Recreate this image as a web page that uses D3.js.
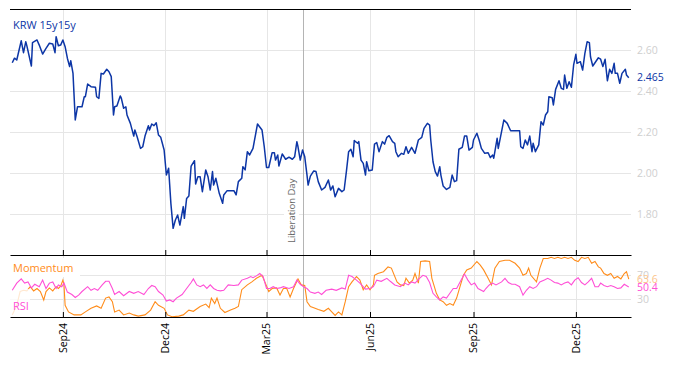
<!DOCTYPE html>
<html>
<head>
<meta charset="utf-8">
<script src="https://cdn.jsdelivr.net/npm/d3@7"></script>
<style>
  body { margin: 0; background: #fff; }
  text { font-family: 'Open Sans', sans-serif; }
</style>
</head>
<body>
<svg id="chart" width="674" height="366"></svg>
<script>
// day offsets are counted from 1 Sep 2024
const baseDate = new Date(2024, 8, 1);

const krw = [
  [-45, 2.538], [-43, 2.56], [-41, 2.551], [-37, 2.645], [-35, 2.587], [-33, 2.64], [-32, 2.62],
  [-28, 2.522], [-27, 2.636], [-23, 2.649], [-21, 2.624], [-18, 2.58], [-15, 2.608], [-12, 2.633],
  [-9, 2.629], [-7, 2.587], [-6, 2.665], [-4, 2.621], [-2, 2.624], [0, 2.649], [2, 2.616],
  [4, 2.56], [6, 2.519], [7, 2.548], [9, 2.486], [11, 2.259], [13, 2.323], [17, 2.323],
  [19, 2.372], [20, 2.372], [22, 2.434], [25, 2.421], [29, 2.418], [30, 2.372], [32, 2.364],
  [34, 2.486], [36, 2.483], [39, 2.506], [41, 2.494], [43, 2.47], [45, 2.283], [46, 2.323],
  [48, 2.327], [51, 2.376], [52, 2.364], [54, 2.316], [56, 2.323], [57, 2.283], [60, 2.242],
  [63, 2.18], [64, 2.21], [66, 2.177], [69, 2.12], [71, 2.128], [73, 2.18], [76, 2.231],
  [77, 2.21], [79, 2.239], [81, 2.231], [83, 2.245], [85, 2.185], [87, 2.174], [90, 2.112],
  [92, 1.99], [94, 2.023], [96, 1.852], [98, 1.73], [100, 1.771], [102, 1.795], [104, 1.746],
  [107, 1.836], [108, 1.779], [110, 1.876], [112, 1.888], [114, 2.034], [117, 2.06], [118, 1.946],
  [120, 1.982], [122, 1.982], [124, 1.909], [127, 2.015], [129, 1.982], [131, 1.917], [133, 2.007],
  [134, 1.941], [136, 1.974], [139, 1.901], [142, 1.852], [143, 1.893], [146, 1.914], [152, 1.914],
  [154, 1.893], [156, 1.958], [159, 1.974], [160, 2.031], [162, 2.015], [164, 2.104], [166, 2.088],
  [169, 2.12], [173, 2.239], [177, 2.21], [179, 2.128], [181, 2.027], [183, 2.027], [186, 2.099],
  [188, 2.099], [189, 2.063], [191, 2.088], [192, 2.034], [195, 2.093], [198, 2.067], [201, 2.077],
  [204, 2.067], [206, 2.079], [208, 2.153], [209, 2.128], [211, 2.063], [213, 2.112], [215, 2.079],
  [217, 1.99], [218, 1.941], [220, 1.985], [223, 2.01], [225, 2.007], [227, 1.958], [230, 1.917],
  [233, 1.93], [236, 1.966], [238, 1.917], [240, 1.937], [242, 1.884], [245, 1.925], [248, 1.909],
  [250, 1.917], [252, 2.007], [254, 2.104], [256, 2.116], [258, 2.079], [259, 2.158], [262, 2.145],
  [263, 2.153], [265, 2.063], [267, 2.047], [269, 1.99], [270, 2.055], [272, 2.011], [275, 2.015],
  [277, 2.141], [279, 2.148], [281, 2.104], [284, 2.153], [286, 2.141], [288, 2.174], [290, 2.182],
  [293, 2.153], [295, 2.145], [296, 2.104], [298, 2.079], [301, 2.096], [303, 2.091], [305, 2.128],
  [307, 2.096], [310, 2.125], [313, 2.096], [316, 2.161], [319, 2.174], [321, 2.218], [324, 2.242],
  [326, 2.234], [327, 2.161], [329, 2.055], [331, 2.007], [333, 1.985], [335, 2.031], [336, 1.99],
  [338, 1.937], [341, 1.92], [344, 1.93], [346, 1.99], [348, 1.958], [350, 1.963], [352, 2.116],
  [355, 2.125], [357, 2.18], [359, 2.18], [361, 2.112], [364, 2.125], [365, 2.161], [368, 2.194],
  [370, 2.161], [372, 2.12], [375, 2.096], [378, 2.099], [380, 2.075], [382, 2.088], [383, 2.072],
  [386, 2.169], [387, 2.12], [392, 2.259], [395, 2.242], [398, 2.206], [406, 2.206], [407, 2.128],
  [409, 2.12], [411, 2.161], [413, 2.137], [415, 2.18], [417, 2.104], [418, 2.145], [420, 2.104],
  [423, 2.137], [425, 2.25], [427, 2.234], [429, 2.283], [431, 2.299], [432, 2.372], [435, 2.367],
  [436, 2.332], [438, 2.408], [441, 2.45], [443, 2.413], [445, 2.408], [446, 2.478], [448, 2.413],
  [450, 2.445], [452, 2.418], [454, 2.527], [456, 2.579], [457, 2.535], [460, 2.543], [462, 2.502],
  [464, 2.584], [466, 2.64], [468, 2.636], [469, 2.567], [471, 2.522], [473, 2.538], [476, 2.562],
  [478, 2.555], [480, 2.519], [482, 2.555], [484, 2.45], [486, 2.506], [488, 2.486], [490, 2.535],
  [491, 2.486], [493, 2.486], [495, 2.438], [497, 2.486], [500, 2.506], [501, 2.478], [503, 2.465]
];

const momentum = [
  [-45, 4], [-41, 20], [-38, 43], [-35, 45], [-32, 44], [-29, 51], [-26, 44], [-23, 48], [-20, 43],
  [-17, 29], [-15, 43], [-12, 49], [-9, 44], [-6, 51], [-4, 48], [-2, 52], [0, 62], [1, 54], [2, 20],
  [5, 9], [10, 4], [16, 4], [20, 9], [25, 15], [30, 19], [34, 15], [38, 32], [41, 34], [44, 26],
  [46, 9], [50, 12], [54, 4], [59, 7], [63, 4], [67, 2], [73, 4], [78, 12], [82, 26], [85, 20],
  [90, 15], [93, 4], [97, 1], [103, 2], [107, 4], [112, 12], [116, 10], [122, 18], [127, 22],
  [130, 16], [132, 32], [135, 23], [137, 32], [140, 15], [144, 8], [149, 12], [153, 15], [156, 18],
  [159, 46], [164, 54], [168, 59], [172, 65], [177, 70], [180, 57], [183, 43], [186, 48], [190, 49],
  [193, 37], [196, 48], [199, 48], [202, 34], [205, 48], [209, 64], [212, 54], [215, 53], [217, 26],
  [220, 18], [223, 16], [227, 13], [232, 10], [236, 15], [239, 9], [242, 3], [245, 9], [248, 4],
  [251, 26], [254, 51], [257, 59], [261, 68], [264, 62], [267, 46], [270, 54], [273, 46], [276, 54],
  [277, 70], [280, 73], [285, 76], [289, 84], [292, 82], [297, 59], [300, 54], [303, 53], [305, 65],
  [308, 57], [311, 62], [313, 73], [316, 57], [318, 93], [322, 94], [326, 93], [328, 65], [332, 40],
  [335, 29], [338, 26], [341, 20], [344, 23], [347, 20], [350, 32], [353, 51], [356, 70], [359, 79],
  [363, 82], [368, 93], [371, 87], [374, 79], [378, 65], [381, 54], [384, 82], [388, 93], [393, 95],
  [397, 95], [402, 90], [406, 82], [409, 70], [412, 73], [414, 82], [416, 70], [421, 59], [424, 82],
  [427, 98], [431, 98], [434, 100], [437, 98], [440, 100], [443, 98], [446, 100], [449, 98],
  [452, 100], [455, 95], [458, 93], [461, 100], [464, 98], [467, 100], [470, 90], [473, 93],
  [476, 84], [478, 82], [481, 73], [484, 70], [487, 73], [490, 65], [493, 68], [496, 64], [499, 73],
  [501, 76], [503, 63.6]
];

const rsi = [
  [-45, 45], [-41, 57], [-37, 64], [-34, 57], [-31, 59], [-28, 49], [-25, 55], [-21, 51], [-18, 62],
  [-15, 48], [-12, 57], [-9, 59], [-6, 48], [-4, 54], [-1, 51], [1, 57], [4, 42], [8, 38], [11, 33],
  [14, 37], [17, 43], [22, 51], [25, 45], [28, 48], [31, 45], [35, 54], [38, 60], [41, 60], [44, 48],
  [46, 38], [50, 43], [54, 36], [59, 43], [63, 40], [67, 43], [72, 38], [76, 48], [79, 53], [82, 51],
  [85, 43], [89, 37], [92, 27], [95, 29], [98, 26], [101, 32], [106, 38], [110, 48], [114, 58],
  [116, 64], [119, 54], [122, 51], [125, 54], [128, 48], [131, 54], [134, 48], [137, 45], [140, 44],
  [143, 45], [147, 54], [152, 53], [156, 54], [159, 62], [164, 65], [167, 68], [169, 66], [172, 69],
  [175, 73], [178, 68], [181, 48], [184, 48], [187, 51], [190, 48], [193, 49], [196, 51], [201, 48],
  [205, 51], [208, 62], [211, 55], [214, 51], [217, 48], [220, 42], [224, 40], [227, 42], [230, 38],
  [234, 45], [239, 47], [243, 45], [248, 49], [251, 47], [254, 70], [257, 68], [261, 62], [264, 57],
  [269, 47], [273, 48], [276, 51], [279, 62], [283, 60], [288, 65], [291, 60], [295, 54], [300, 51],
  [304, 57], [307, 54], [310, 59], [313, 57], [317, 65], [320, 70], [323, 68], [326, 58], [329, 40],
  [332, 34], [335, 29], [338, 34], [341, 32], [344, 40], [347, 48], [350, 48], [354, 62], [357, 72],
  [360, 62], [363, 54], [366, 57], [369, 48], [374, 43], [376, 48], [379, 54], [382, 57], [385, 54],
  [390, 59], [393, 65], [396, 58], [399, 55], [402, 55], [406, 51], [409, 37], [412, 45], [415, 51],
  [418, 48], [421, 51], [424, 59], [428, 62], [431, 65], [434, 62], [437, 58], [440, 57], [443, 54],
  [446, 57], [449, 59], [452, 54], [455, 62], [458, 66], [461, 58], [464, 54], [467, 59], [470, 65],
  [473, 51], [476, 51], [478, 57], [481, 53], [484, 51], [487, 53], [490, 51], [493, 48], [496, 49],
  [499, 55], [503, 50.4]
];

const monthTicks = ['2024-09-01', '2024-12-01', '2025-03-01', '2025-06-01', '2025-09-01', '2025-12-01'];
const monthLabels = ['Sep24', 'Dec24', 'Mar25', 'Jun25', 'Sep25', 'Dec25'];
const mainTicks = [1.8, 2.0, 2.2, 2.4, 2.6];
const indTicks = [30, 70];
const eventDay = '2025-04-02';
const eventLabel = 'Liberation Day';

const blue = '#0d36a6', orange = '#ff8c1a', pink = '#ff4fd6';
const left = 10, right = 631;

const svg = d3.select('#chart');
const parse = d3.timeParse('%Y-%m-%d');
const day = d => d3.timeDay.offset(baseDate, d);

const x = d3.scaleTime()
  .domain([new Date(2024, 6, 16), new Date(2026, 0, 19)])
  .range([left, right]);
const y = d3.scaleLinear().domain([1.6, 2.8]).range([255, 9]);
const yi = d3.scaleLinear().domain([0, 100]).range([317.3, 257.3]);

const tickDates = monthTicks.map(parse);

// --- grid
const grid = svg.append('g')
  .attr('stroke', '#e6e6e6')
  .attr('shape-rendering', 'crispEdges');

grid.selectAll('.vg')
  .data(tickDates)
  .join('line')
  .attr('x1', d => Math.round(x(d)) + 0.5)
  .attr('x2', d => Math.round(x(d)) + 0.5)
  .attr('y1', 9)
  .attr('y2', 317);

grid.selectAll('.hm')
  .data(mainTicks)
  .join('line')
  .attr('x1', left)
  .attr('x2', right)
  .attr('y1', d => Math.round(y(d)) + 0.5)
  .attr('y2', d => Math.round(y(d)) + 0.5);

grid.selectAll('.hi')
  .data(indTicks)
  .join('line')
  .attr('x1', left)
  .attr('x2', right)
  .attr('y1', d => Math.round(yi(d)) + 0.5)
  .attr('y2', d => Math.round(yi(d)) + 0.5);

// --- event marker
const ex = Math.round(x(parse(eventDay))) + 0.5;
svg.append('line')
  .attr('x1', ex).attr('x2', ex)
  .attr('y1', 9).attr('y2', 317)
  .attr('stroke', '#b4b4b4')
  .attr('shape-rendering', 'crispEdges');

const evText = svg.append('text')
  .attr('transform', `translate(${ex - 12},243) rotate(-90)`)
  .attr('dy', '0.35em')
  .attr('fill', '#666')
  .style('font-size', '9.5px')
  .text(eventLabel);
const eb = evText.node().getBBox();
svg.insert('rect', () => evText.node())
  .attr('x', ex - 12 - eb.height / 2 - 1)
  .attr('y', 243 - eb.width - 2)
  .attr('width', eb.height + 2)
  .attr('height', eb.width + 4)
  .attr('fill', '#fff');

// --- lines
const mainLine = d3.line()
  .x(d => x(day(d[0])))
  .y(d => y(d[1]));
const indLine = d3.line()
  .x(d => x(day(d[0])))
  .y(d => yi(d[1]));

svg.append('path')
  .datum(krw)
  .attr('d', mainLine)
  .attr('fill', 'none')
  .attr('stroke', blue)
  .attr('stroke-width', 1.5)
  .attr('stroke-linejoin', 'round');

svg.append('path')
  .datum(momentum)
  .attr('d', indLine)
  .attr('fill', 'none')
  .attr('stroke', orange)
  .attr('stroke-width', 1.1);

// legend boxes fade whatever sits below them
svg.append('rect')
  .attr('x', left).attr('y', 289)
  .attr('width', 20).attr('height', 27)
  .attr('fill', '#fff').attr('opacity', 0.8);
svg.append('rect')
  .attr('x', left).attr('y', 258)
  .attr('width', 70).attr('height', 19)
  .attr('fill', '#fff');

svg.append('path')
  .datum(rsi)
  .attr('d', indLine)
  .attr('fill', 'none')
  .attr('stroke', pink)
  .attr('stroke-width', 1.1);

// --- axes
svg.append('line')
  .attr('x1', left).attr('x2', right)
  .attr('y1', 9.5).attr('y2', 9.5)
  .attr('stroke', '#000');

[255, 317].forEach(yy => {
  const ax = svg.append('g')
    .attr('transform', `translate(0,${yy})`)
    .call(d3.axisTop(x).tickValues(tickDates).tickSizeInner(5).tickSizeOuter(0).tickFormat(''));
  ax.select('.domain').attr('stroke-width', 1.2);
});

svg.append('g')
  .selectAll('text')
  .data(tickDates)
  .join('text')
  .attr('transform', d => `translate(${x(d)},323) rotate(-90)`)
  .attr('dy', '0.35em')
  .attr('text-anchor', 'end')
  .attr('fill', '#000')
  .style('font-size', '10.5px')
  .text((d, i) => monthLabels[i]);

// --- right labels
const rx = 637;
svg.append('g')
  .selectAll('text')
  .data(mainTicks)
  .join('text')
  .attr('x', rx)
  .attr('y', d => y(d))
  .attr('dy', '0.35em')
  .attr('fill', '#cfcfcf')
  .style('font-size', '10.5px')
  .text(d => d3.format('.2f')(d));

svg.append('g')
  .selectAll('text')
  .data(indTicks)
  .join('text')
  .attr('x', rx)
  .attr('y', d => yi(d))
  .attr('dy', '0.35em')
  .attr('fill', '#cfcfcf')
  .style('font-size', '10.5px')
  .text(d => d);

const lastKrw = krw[krw.length - 1][1];
const lastMom = momentum[momentum.length - 1][1];
const lastRsi = rsi[rsi.length - 1][1];

svg.append('text')
  .attr('x', rx).attr('y', y(lastKrw)).attr('dy', '0.35em')
  .attr('fill', blue).style('font-size', '10.5px')
  .text(d3.format('.3f')(lastKrw));
svg.append('text')
  .attr('x', rx).attr('y', yi(lastMom)).attr('dy', '0.35em')
  .attr('fill', '#fcc48a').style('font-size', '10.5px')
  .text(d3.format('.1f')(lastMom));
svg.append('text')
  .attr('x', rx).attr('y', yi(lastRsi)).attr('dy', '0.35em')
  .attr('fill', pink).style('font-size', '10.5px')
  .text(d3.format('.1f')(lastRsi));

// --- series names
svg.append('text')
  .attr('x', 13).attr('y', 29)
  .attr('fill', blue).style('font-size', '11px')
  .text('KRW 15y15y');
svg.append('text')
  .attr('x', 13).attr('y', 272)
  .attr('fill', orange).style('font-size', '11px')
  .text('Momentum');
svg.append('text')
  .attr('x', 13).attr('y', 310)
  .attr('fill', pink).style('font-size', '11px')
  .text('RSI');
</script>
</body>
</html>
